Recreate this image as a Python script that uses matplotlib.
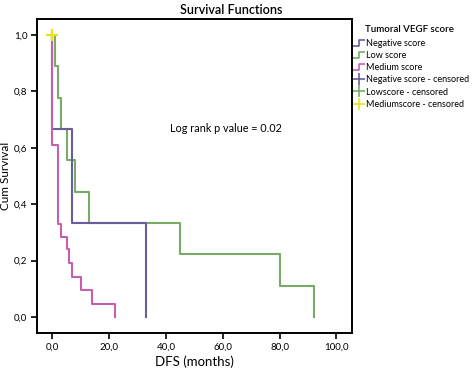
import numpy as np
import matplotlib
matplotlib.use("Agg")
import matplotlib.pyplot as plt
from matplotlib.lines import Line2D
from matplotlib.path import Path

plt.rcParams['font.family'] = ['Lato', 'DejaVu Sans']

# Kaplan-Meier steps (time in months, survival after event)
neg_t = [0, 0, 7, 33]
neg_s = [1.0, 0.667, 0.333, 0.0]

low_t = [0, 1, 2, 3, 5, 8, 13, 45, 80, 92]
low_s = [1.0, 0.889, 0.778, 0.667, 0.556, 0.444, 0.333, 0.222, 0.111, 0.0]

med_t = [0, 0, 2, 3, 5, 6, 7, 10, 14, 22]
med_s = [1.0, 0.61, 0.33, 0.285, 0.24, 0.19, 0.14, 0.095, 0.045, 0.0]

med_cens_t = [0]
med_cens_s = [1.0]

xticks = [0, 20, 40, 60, 80, 100]
yticks = [0.0, 0.2, 0.4, 0.6, 0.8, 1.0]

c_neg = '#6a5d9c'
c_low = '#78ab66'
c_med = '#c75fb0'
c_yel = '#e8e41a'

W, H = 472, 372
fig = plt.figure(figsize=(4.72, 3.72), dpi=100)
ax = fig.add_axes([37/W, 39/H, 315/W, 314/H])

ax.step(low_t, low_s, where='post', color=c_low, lw=1.5)
ax.step(neg_t, neg_s, where='post', color=c_neg, lw=1.5)
ax.step(med_t, med_s, where='post', color=c_med, lw=1.5)
ax.plot(med_cens_t, med_cens_s, ls='none', marker='+', ms=8, mew=1.6, color=c_yel)

ax.set_xlim(-5.4, 105.5)
ax.set_ylim(-0.057, 1.057)
ax.set_xticks(xticks)
ax.set_xticklabels([f'{v:.1f}'.replace('.', ',') for v in xticks])
ax.set_yticks(yticks)
ax.set_yticklabels([f'{v:.1f}'.replace('.', ',') for v in yticks])
ax.tick_params(labelsize=7, length=4, width=1.2, pad=3)
for sp in ax.spines.values():
    sp.set_linewidth(1.4)

ax.set_xlabel('DFS (months)', fontsize=9.5, labelpad=3)
ax.set_ylabel('Cum Survival', fontsize=8.5, labelpad=2)
fig.text(231/W, 1 - 10/H, 'Survival Functions', ha='center', va='center',
         fontsize=9, fontweight='semibold')
fig.text(170/W, 1 - 128/H, 'Log rank p value = 0.02', fontsize=7.8,
         va='center', ha='left')

# legend: title placed by hand, entries through fig.legend
fig.text(365/W, 1 - 30/H, 'Tumoral VEGF score', fontsize=7, fontweight='semibold',
         ha='left', va='center')
step = Path([(-1, -0.6), (0, -0.6), (0, 0.6), (1, 0.6)],
            [Path.MOVETO, Path.LINETO, Path.LINETO, Path.LINETO])
handles = [
    Line2D([], [], ls='none', marker=step, ms=8, mew=1.2, fillstyle='none', color=c_neg),
    Line2D([], [], ls='none', marker=step, ms=8, mew=1.2, fillstyle='none', color=c_low),
    Line2D([], [], ls='none', marker=step, ms=8, mew=1.2, fillstyle='none', color=c_med),
    Line2D([], [], ls='none', marker='+', ms=9, mew=1.2, color=c_neg),
    Line2D([], [], ls='none', marker='+', ms=9, mew=1.2, color=c_low),
    Line2D([], [], ls='none', marker='+', ms=9, mew=1.2, color=c_yel),
]
labels = ['Negative score', 'Low score', 'Medium score',
          'Negative score - censored', 'Lowscore - censored', 'Mediumscore - censored']
leg = fig.legend(handles, labels, loc='upper left', bbox_to_anchor=(354/W, 1 - 39/H),
                 frameon=False, fontsize=6.5,
                 handlelength=1.0, handletextpad=0.3, labelspacing=0.35,
                 borderpad=0.0, borderaxespad=0.0)

fig.savefig('out.png', dpi=100)
